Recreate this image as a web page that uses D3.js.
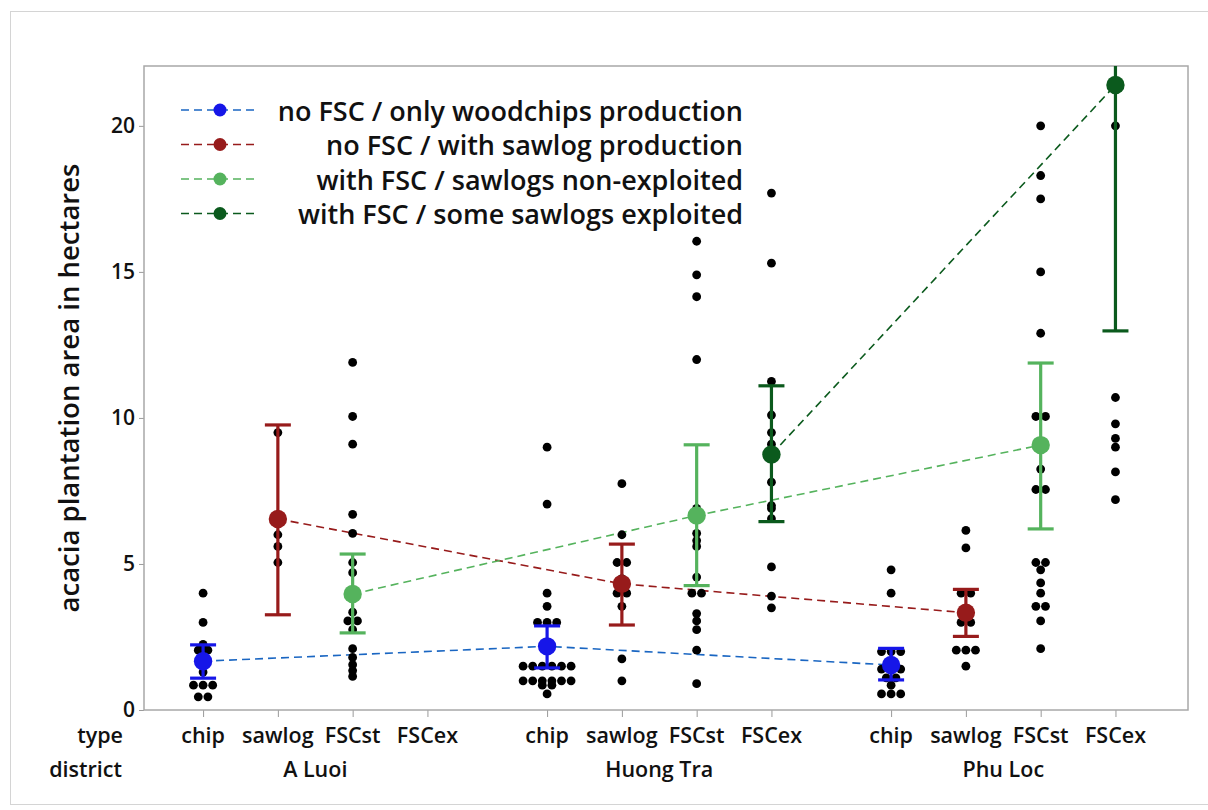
<!DOCTYPE html>
<html>
<head>
<meta charset="utf-8">
<script src="https://cdn.jsdelivr.net/npm/d3@7"></script>
<style>
    body { margin: 0; background: #fff; }
    text { font-family: "Open Sans", sans-serif; font-weight: 600; fill: #111; }
</style>
</head>
<body>
<div id="canvas"></div>
<script>
"use strict"

// ---------------- DATA ----------------
let districts = ["A Luoi", "Huong Tra", "Phu Loc"]
let types = ["chip", "sawlog", "FSCst", "FSCex"]
let seriesLabels = [
    "no FSC / only woodchips production",
    "no FSC / with sawlog production",
    "with FSC / sawlogs non-exploited",
    "with FSC / some sawlogs exploited"
]
let yTicks = [0, 5, 10, 15, 20]

// individual plantation areas (ha), in type order: chip, sawlog, FSCst, FSCex
let aLuoiValues = [
    [4.0, 3.0, 2.25, 2.05, 2.05, 1.3, 0.85, 0.85, 0.85, 0.45, 0.45],
    [9.5, 6.0, 5.6, 5.05],
    [11.9, 10.05, 9.1, 6.7, 6.05, 5.05, 4.7, 3.35, 3.05, 3.05, 2.75, 2.1, 1.8, 1.55, 1.35, 1.15],
    []
]
let huongTraValues = [
    [9.0, 7.05, 4.0, 3.55, 3.0, 3.0, 3.0, 1.5, 1.5, 1.5, 1.5, 1.5, 1.5, 1.0, 1.0, 1.0, 1.0, 1.0, 1.0, 0.85, 0.85, 0.55],
    [7.75, 6.0, 5.05, 5.05, 4.5, 4.0, 4.0, 3.55, 1.75, 1.0],
    [16.05, 14.9, 14.15, 12.0, 6.9, 6.05, 5.8, 5.6, 4.55, 4.0, 4.0, 3.3, 3.05, 2.75, 2.05, 0.9],
    [17.7, 15.3, 11.25, 10.1, 9.5, 9.1, 7.8, 7.0, 6.9, 6.55, 4.9, 3.9, 3.5]
]
let phuLocValues = [
    [4.8, 4.0, 2.0, 2.0, 2.0, 1.4, 1.4, 1.4, 1.1, 1.1, 0.85, 0.55, 0.55, 0.55],
    [6.15, 5.55, 4.0, 4.0, 3.0, 3.0, 2.05, 2.05, 2.05, 1.5],
    [20.0, 18.3, 17.5, 15.0, 12.9, 10.05, 10.05, 8.25, 7.55, 7.55, 5.05, 5.05, 4.8, 4.35, 4.0, 3.55, 3.55, 3.05, 2.1],
    [20.0, 10.7, 9.8, 9.3, 9.0, 8.15, 7.2]
]

// means and 95% CI per type, in district order (null = no data)
let typeMeans = [
    [1.67, 2.18, 1.54],
    [6.54, 4.32, 3.33],
    [3.97, 6.66, 9.07],
    [null, 8.75, 21.4]
]
let ciLower = [
    [1.09, 1.44, 1.03],
    [3.26, 2.91, 2.52],
    [2.64, 4.26, 6.2],
    [null, 6.45, 12.98]
]
let ciUpper = [
    [2.23, 2.88, 2.11],
    [9.76, 5.68, 4.13],
    [5.34, 9.08, 11.88],
    [null, 11.1, 29.8]
]

let markerColors = ["#1616e8", "#971b1b", "#55b35d", "#0b5a1d"]
let lineColors = ["#1a66c2", "#971b1b", "#55b35d", "#0b5a1d"]

// ---------------- LAYOUT ----------------
let svgWidth = 1208
let svgHeight = 810
let plot = { left: 144, top: 66, right: 1188, bottom: 710 }
let groupGap = 4.6

let svg = d3.select("#canvas")
    .append("svg")
    .attr("width", svgWidth)
    .attr("height", svgHeight)

let xScale = d3.scaleLinear()
    .domain([-0.79, 13.17])
    .range([plot.left, plot.right])

let yScale = d3.scaleLinear()
    .domain([0, 22.05])
    .range([plot.bottom, plot.top])

function pos(d, t) { return d * groupGap + t }

// outer frame
svg.append("rect")
    .attr("x", 10.5).attr("y", 11.5)
    .attr("width", 1210).attr("height", 793)
    .attr("fill", "none").attr("stroke", "#d4d4d4")

svg.append("defs").append("clipPath").attr("id", "plotClip")
    .append("rect")
    .attr("x", plot.left).attr("y", plot.top)
    .attr("width", plot.right - plot.left).attr("height", plot.bottom - plot.top)

// ---------------- AXES ----------------
let yAxis = d3.axisLeft(yScale).tickValues(yTicks).tickSize(5).tickPadding(4)
let yg = svg.append("g")
    .attr("transform", `translate(${plot.left},0)`)
    .call(yAxis)
yg.select(".domain").remove()
yg.selectAll("line").attr("stroke", "#9a9a9a")
yg.selectAll("text").style("font-size", "21px").attr("fill", "#111")

let tickPositions = []
districts.forEach(function(d, i) {
    types.forEach(function(t, j) { tickPositions.push(pos(i, j)) })
})

let xAxis = d3.axisBottom(xScale).tickValues(tickPositions).tickSize(7).tickFormat("")
let xg = svg.append("g")
    .attr("transform", `translate(0,${plot.bottom})`)
    .call(xAxis)
xg.select(".domain").remove()
xg.selectAll("line").attr("stroke", "#9a9a9a")

svg.append("rect")
    .attr("x", plot.left).attr("y", plot.top)
    .attr("width", plot.right - plot.left).attr("height", plot.bottom - plot.top)
    .attr("fill", "none").attr("stroke", "#a8a8a8").attr("stroke-width", 1.5)

// category labels
svg.append("text").attr("x", 123).attr("y", 734)
    .attr("text-anchor", "end").attr("dominant-baseline", "central")
    .style("font-size", "21.5px").text("type")
svg.append("text").attr("x", 122).attr("y", 768)
    .attr("text-anchor", "end").attr("dominant-baseline", "central")
    .style("font-size", "21.5px").text("district")

districts.forEach(function(d, i) {
    svg.selectAll(null)
        .data(types)
        .enter()
        .append("text")
        .attr("x", function(t, j) { return xScale(pos(i, j)) })
        .attr("y", 734)
        .attr("text-anchor", "middle")
        .attr("dominant-baseline", "central")
        .style("font-size", "21.5px")
        .text(function(t) { return t })

    svg.append("text")
        .attr("x", xScale(pos(i, 1.5)))
        .attr("y", 768)
        .attr("text-anchor", "middle")
        .attr("dominant-baseline", "central")
        .style("font-size", "21.5px")
        .text(d)
})

svg.append("text")
    .attr("transform", `translate(68,${(plot.top + plot.bottom) / 2}) rotate(-90)`)
    .attr("text-anchor", "middle")
    .attr("dominant-baseline", "central")
    .style("font-size", "27.5px")
    .text("acacia plantation area in hectares")

// ---------------- MARKS ----------------
let viz = svg.append("g").attr("clip-path", "url(#plotClip)")

// dashed mean connectors
typeMeans.forEach(function(means, j) {
    let pts = means.map(function(m, i) { return { x: pos(i, j), y: m } })
        .filter(function(p) { return p.y !== null })
    viz.append("path")
        .datum(pts)
        .attr("d", d3.line().x(function(p) { return xScale(p.x) }).y(function(p) { return yScale(p.y) }))
        .attr("fill", "none")
        .attr("stroke", lineColors[j])
        .attr("stroke-width", 1.6)
        .attr("stroke-dasharray", "8,5")
})

// individual values, identical values set side by side
let allValues = [aLuoiValues, huongTraValues, phuLocValues]
let dots = []
allValues.forEach(function(district, i) {
    district.forEach(function(vals, j) {
        let counts = d3.rollup(vals, function(v) { return v.length }, function(v) { return v })
        counts.forEach(function(n, v) {
            for (let k = 0; k < n; k++) {
                dots.push({ x: xScale(pos(i, j)) + (k - (n - 1) / 2) * 9.6, y: yScale(v) })
            }
        })
    })
})

viz.selectAll("circle.dot")
    .data(dots)
    .enter()
    .append("circle")
    .attr("class", "dot")
    .attr("cx", function(d) { return d.x })
    .attr("cy", function(d) { return d.y })
    .attr("r", 4.4)
    .attr("fill", "black")

// error bars and means
typeMeans.forEach(function(means, j) {
    means.forEach(function(m, i) {
        if (m === null) return
        let cx = xScale(pos(i, j))
        let lo = yScale(ciLower[j][i])
        let hi = yScale(ciUpper[j][i])
        let g = viz.append("g")
            .attr("stroke", markerColors[j])
            .attr("stroke-width", 3.2)
        g.append("line").attr("x1", cx).attr("x2", cx).attr("y1", lo).attr("y2", hi)
        g.append("line").attr("x1", cx - 13).attr("x2", cx + 13).attr("y1", lo).attr("y2", lo)
        g.append("line").attr("x1", cx - 13).attr("x2", cx + 13).attr("y1", hi).attr("y2", hi)
        viz.append("circle")
            .attr("cx", cx)
            .attr("cy", yScale(m))
            .attr("r", 9.2)
            .attr("fill", markerColors[j])
    })
})

// ---------------- LEGEND ----------------
let legend = svg.append("g")
seriesLabels.forEach(function(label, j) {
    let y = 110 + j * 34.5
    legend.append("line")
        .attr("x1", 181).attr("x2", 257).attr("y1", y).attr("y2", y)
        .attr("stroke", lineColors[j])
        .attr("stroke-width", 1.6)
        .attr("stroke-dasharray", "8,5")
    legend.append("circle")
        .attr("cx", 220).attr("cy", y).attr("r", 6.5)
        .attr("fill", markerColors[j])
    legend.append("text")
        .attr("x", 743).attr("y", y)
        .attr("text-anchor", "end")
        .attr("dominant-baseline", "central")
        .style("font-size", "27px")
        .text(label)
})
</script>
</body>
</html>
